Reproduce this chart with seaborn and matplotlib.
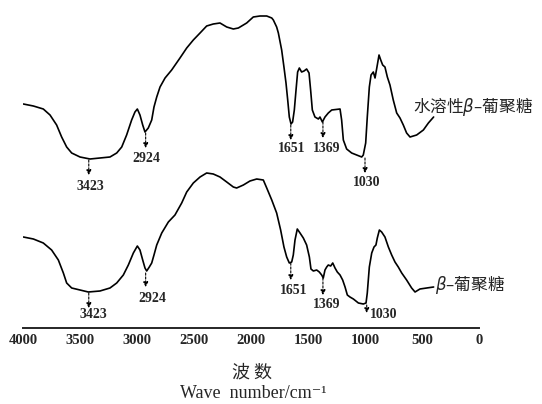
import numpy as np
import pandas as pd
import matplotlib
matplotlib.use("Agg")
import matplotlib.pyplot as plt
import seaborn as sns

# wavenumber (cm-1) and relative transmittance
wave_top = [3997, 3909, 3822, 3763, 3705, 3661, 3617, 3573, 3500, 3412, 3325, 3237,
            3178, 3134, 3091, 3047, 3018, 2997, 2974, 2950, 2930, 2901, 2871, 2851,
            2827, 2798, 2754, 2696, 2623, 2564, 2506, 2447, 2389, 2331, 2272, 2213,
            2155, 2111, 2038, 1980, 1921, 1862, 1818, 1804, 1775, 1760, 1731, 1711,
            1693, 1678, 1664, 1649, 1635, 1620, 1605, 1591, 1576, 1556, 1535, 1512,
            1491, 1477, 1462, 1439, 1409, 1395, 1374, 1351, 1322, 1292, 1219, 1205,
            1190, 1161, 1117, 1073, 1029, 1015, 994, 980, 962, 947, 927, 912,
            892, 877, 862, 845, 825, 804, 781, 752, 722, 693, 664, 635,
            605, 547, 488, 444, 398]
trans_top = [224, 222, 219, 213, 203, 191, 181, 175, 171, 169, 170, 171,
             175, 181, 193, 208, 216, 219, 213, 203, 196, 200, 208, 221,
             231, 241, 250, 258, 270, 280, 288, 295, 302, 304, 305, 301,
             299, 300, 305, 311, 312, 312, 310, 308, 301, 295, 278, 261,
             245, 228, 211, 204, 206, 218, 238, 256, 260, 256, 257, 259,
             255, 238, 218, 211, 209, 211, 206, 211, 215, 218, 219, 208,
             188, 179, 175, 173, 171, 173, 185, 211, 241, 253, 256, 250,
             263, 273, 268, 263, 261, 251, 243, 228, 215, 210, 203, 195,
             191, 193, 198, 205, 211]

wave_bot = [3997, 3909, 3822, 3749, 3690, 3646, 3617, 3573, 3500, 3427, 3325, 3237,
            3178, 3120, 3076, 3032, 2997, 2974, 2950, 2930, 2915, 2892, 2871, 2851,
            2827, 2783, 2725, 2667, 2608, 2564, 2506, 2447, 2389, 2331, 2272, 2213,
            2155, 2126, 2067, 2009, 1950, 1892, 1862, 1818, 1775, 1740, 1711, 1687,
            1664, 1643, 1629, 1614, 1594, 1570, 1541, 1512, 1488, 1474, 1453, 1424,
            1401, 1380, 1366, 1351, 1336, 1322, 1301, 1283, 1263, 1243, 1219, 1196,
            1175, 1155, 1132, 1102, 1058, 1015, 991, 980, 962, 941, 921, 904,
            892, 874, 854, 825, 795, 766, 737, 708, 678, 635, 591, 561,
            518, 459, 398]
trans_bot = [91, 89, 85, 78, 68, 55, 45, 40, 38, 36, 37, 40,
             45, 53, 63, 75, 82, 78, 68, 60, 57, 61, 65, 73,
             83, 95, 106, 113, 125, 136, 145, 151, 155, 154, 151, 146,
             141, 140, 143, 147, 149, 148, 140, 128, 115, 98, 81, 71,
             65, 66, 73, 88, 99, 95, 90, 83, 71, 59, 57, 58,
             56, 53, 50, 58, 61, 63, 62, 65, 60, 56, 53, 48,
             41, 33, 31, 29, 25, 24, 25, 35, 61, 75, 81, 83,
             90, 98, 96, 91, 81, 73, 66, 61, 55, 48, 40, 36,
             39, 40, 41]

peak_labels = ["3423", "2924", "1651", "1369", "1030"]
series_names = ["水溶性$\\beta$–葡聚糖", "$\\beta$–葡聚糖"]

sns.set_style("white")
plt.rcParams["font.family"] = ["Liberation Serif", "DejaVu Sans"]
plt.rcParams["mathtext.fontset"] = "dejavusans"

fig = plt.figure(figsize=(5.42, 4.04), dpi=100)
ax = fig.add_axes([23 / 542, 76 / 404, 456 / 542, 328 / 404])

df_top = pd.DataFrame({"wave": wave_top, "T": trans_top})
df_bot = pd.DataFrame({"wave": wave_bot, "T": trans_bot})
sns.lineplot(data=df_top, x="wave", y="T", sort=False, color="black", lw=1.2, ax=ax)
sns.lineplot(data=df_bot, x="wave", y="T", sort=False, color="black", lw=1.2, ax=ax)

ax.set_xlim(4000, 0)
ax.set_ylim(0, 328)
for s in ["top", "left", "right"]:
    ax.spines[s].set_visible(False)
ax.spines["bottom"].set_linewidth(1.4)
ax.set_yticks([])
ax.set_xticks(np.arange(0, 4001, 500))
ax.set_xticks(np.arange(250, 4000, 500), minor=True)
ax.tick_params(axis="x", which="major", direction="in", length=6, width=1.3, pad=4)
ax.tick_params(axis="x", which="minor", direction="in", length=3.5, width=1.1)
for lab in ax.get_xticklabels():
    lab.set_fontweight("bold")
    lab.set_fontsize(10.5)
ax.set_xlabel("")
ax.set_ylabel("")

# arrow annotations: (arrow x, arrow top, arrow bottom, text x, text y, ha)
top_marks = [(3423, 168, 153, 3406, 141, "center"),
             (2924, 195, 180, 2915, 170, "center"),
             (1651, 203, 188, 1640, 179, "center"),
             (1369, 206, 190, 1333, 179, "center"),
             (1000, 170, 155, 982, 145, "center")]
bot_marks = [(3423, 35, 20, 3386, 13, "center"),
             (2924, 55, 41, 2870, 30, "center"),
             (1651, 65, 48, 1623, 38, "center"),
             (1369, 50, 33, 1333, 24, "center"),
             (985, 23, 15, 960, 13, "left")]

arrow_kw = dict(arrowstyle="-|>", color="black", lw=0.8, linestyle=(0, (2, 1.5)),
                mutation_scale=7, shrinkA=0, shrinkB=0)
for marks in [top_marks, bot_marks]:
    for lab, (ax_x, y0, y1, tx, ty, ha) in zip(peak_labels, marks):
        ax.annotate("", xy=(ax_x, y1), xytext=(ax_x, y0), arrowprops=arrow_kw)
        ax.text(tx, ty, lab, ha=ha, va="center", fontsize=10, fontweight="bold",
                family="Liberation Serif")

cjk = ["Noto Sans CJK SC", "DejaVu Sans"]
ax.text(579, 222, series_names[0], ha="left", va="center", fontsize=12,
        family=cjk, fontweight="light")
ax.text(388, 43, series_names[1], ha="left", va="center", fontsize=12,
        family=cjk, fontweight="light")

fig.text(252 / 542, 1 - 373 / 404, "波 数", ha="center", va="center", fontsize=13,
         family=cjk, fontweight="light")
fig.text(253 / 542, 1 - 393 / 404, "Wave  number/cm⁻¹", ha="center", va="center",
         fontsize=13, family=["Liberation Serif", "DejaVu Serif"])

fig.savefig("out.png", dpi=100)
